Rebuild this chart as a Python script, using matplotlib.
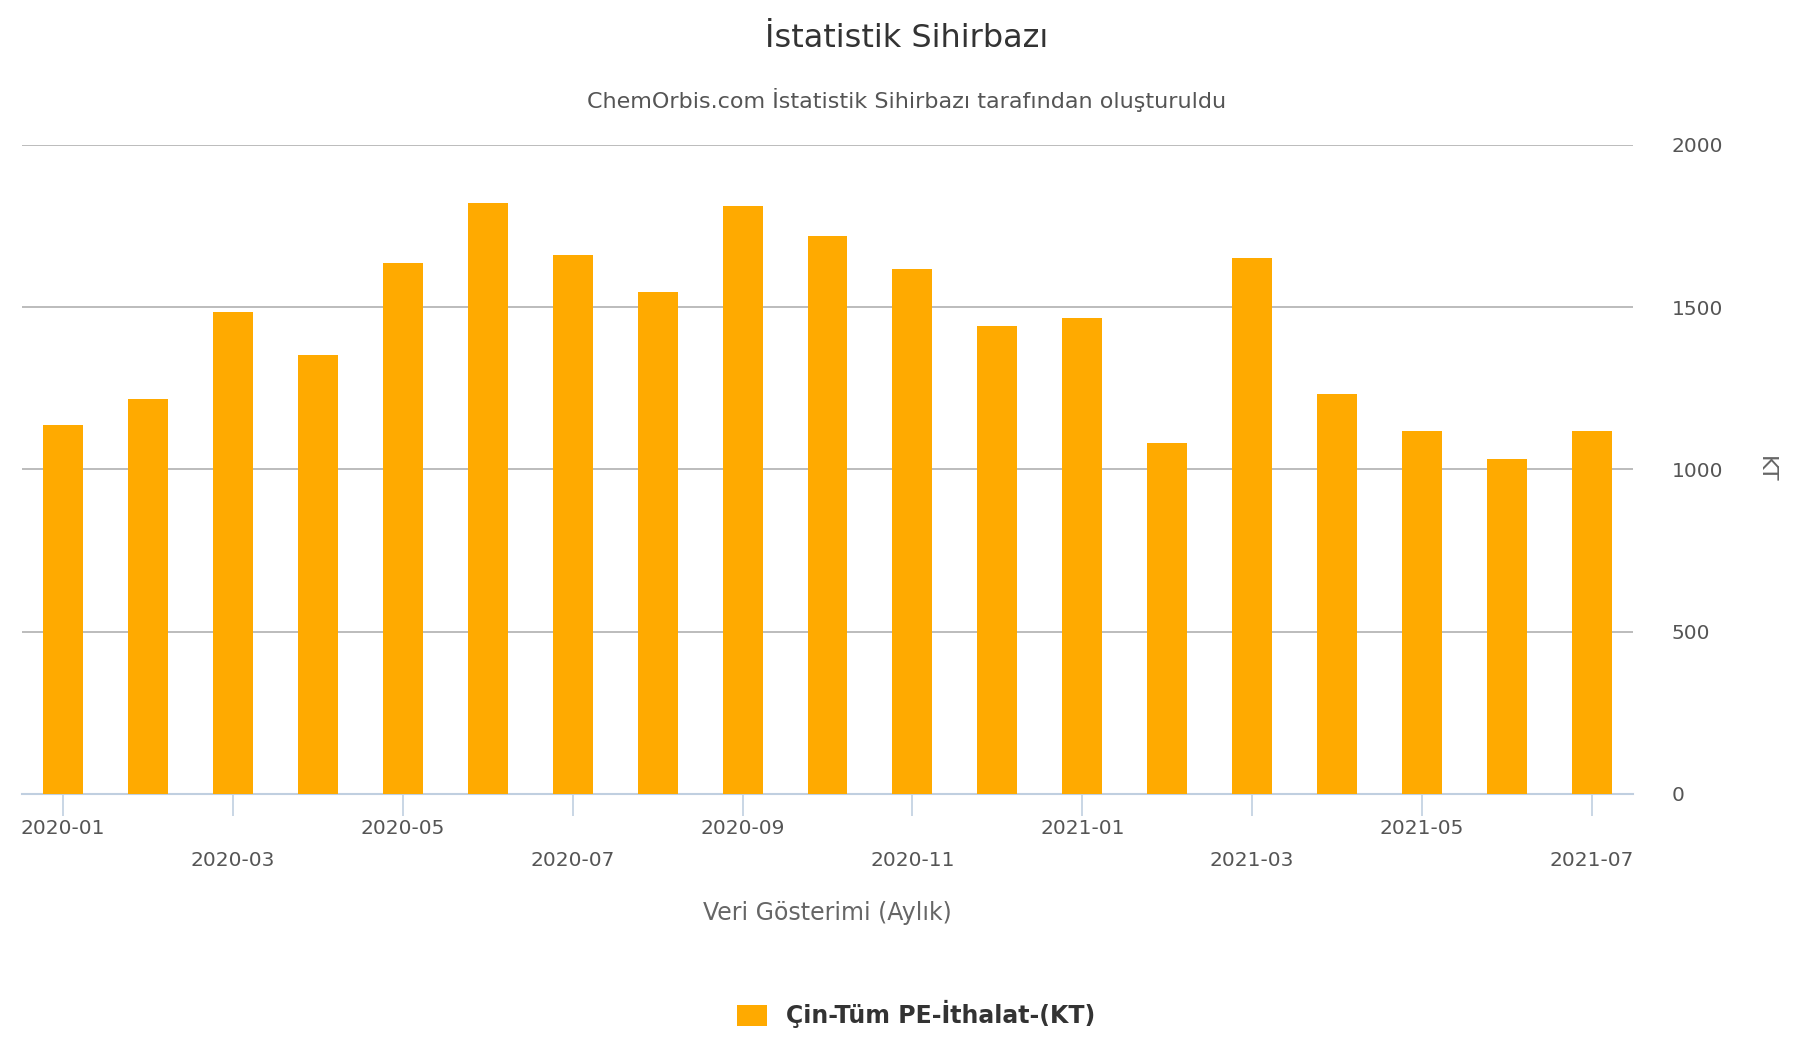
import matplotlib
matplotlib.use("Agg")
import matplotlib.pyplot as plt

months = ["2020-01","2020-02","2020-03","2020-04","2020-05","2020-06","2020-07","2020-08","2020-09",
          "2020-10","2020-11","2020-12","2021-01","2021-02","2021-03","2021-04","2021-05","2021-06","2021-07"]
values = [1136,1218,1486,1353,1636,1821,1661,1546,1811,1718,1618,1443,1468,1082,1650,1232,1118,1032,1118]
yticks = [0,500,1000,1500,2000]

fig = plt.figure(figsize=(17.96,10.5), dpi=100)
ax = fig.add_axes([0.012,0.244,0.897,0.618])
x = list(range(len(months)))
ax.bar(x, values, width=0.47, color="#FFAA00", zorder=3, label="Çin-Tüm PE-İthalat-(KT)")
ax.set_xlim(-0.49, 18.48)
ax.set_ylim(0, 2000)
ax.yaxis.tick_right()
ax.set_yticks(yticks)
ax.set_yticklabels([str(v) for v in yticks], fontsize=14.5, color="#555555")
ax.tick_params(axis="y", length=0, pad=28)
ax.grid(axis="y", color="#b0b0b0", lw=1.2, zorder=0)
tk = x[::2]
ax.set_xticks(tk)
ax.set_xticklabels([months[i] if j % 2 == 0 else "\n" + months[i] for j, i in enumerate(tk)],
                   fontsize=14.5, color="#555555", linespacing=1.9)
ax.tick_params(axis="x", length=16, color="#c0cfe0", width=1.2, pad=2)
for s in ["top", "right", "left"]:
    ax.spines[s].set_visible(False)
ax.spines["bottom"].set_color("#c0cfe0")
ax.spines["bottom"].set_linewidth(1.5)
fig.text(0.983, 0.553, "KT", fontsize=16, color="#666666", rotation=270, ha="center", va="center")
ax.set_xlabel("Veri Gösterimi (Aylık)", fontsize=17, color="#666666", labelpad=22)
fig.text(0.505, 0.963, "İstatistik Sihirbazı", ha="center", va="center", fontsize=23, color="#333333")
fig.text(0.505, 0.905, "ChemOrbis.com İstatistik Sihirbazı tarafından oluşturuldu", ha="center", va="center",
         fontsize=16, color="#555555")
fig.legend(loc="center", bbox_to_anchor=(0.51, 0.034), frameon=False,
           prop={"weight": "bold", "size": 17}, handlelength=1.3, handleheight=1.0)
for t in fig.legends[0].get_texts():
    t.set_color("#333333")
fig.savefig("out.png")
